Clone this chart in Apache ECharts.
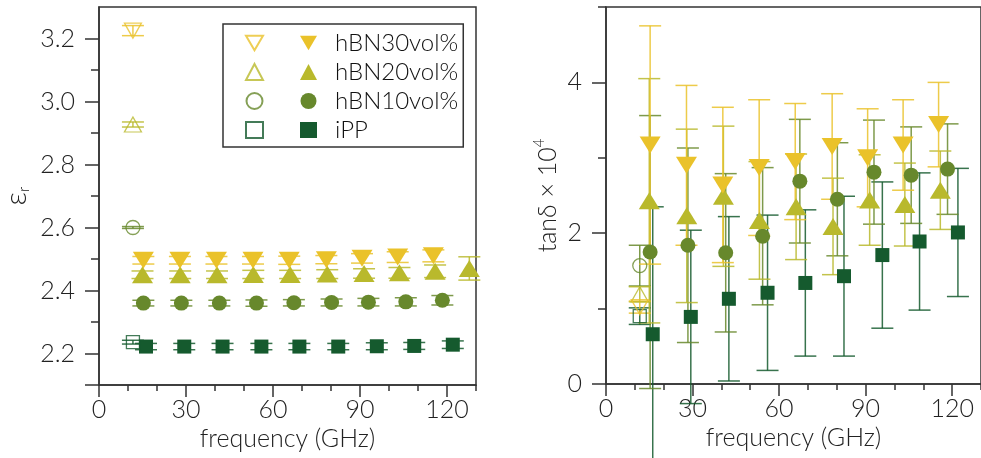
<!DOCTYPE html>
<html>
<head>
<meta charset="utf-8">
<script src="https://cdn.jsdelivr.net/npm/echarts@6/dist/echarts.min.js"></script>
<style>
  html, body { margin: 0; padding: 0; background: #fff; }
  #chart { width: 981px; height: 458px; }
</style>
</head>
<body>
<div id="chart"></div>
<script>
// measurement frequencies (GHz)
const freq30 = [15.3, 27.9, 40.5, 53.1, 65.6, 78.4, 90.7, 103.0, 115.3]
const freq20 = [15.0, 28.0, 40.7, 53.2, 65.9, 78.7, 91.4, 103.6, 115.9, 127.7]
const freq10 = [15.3, 28.4, 41.5, 54.3, 67.2, 80.2, 92.9, 105.8, 118.4]
const freqPP = [16.2, 29.4, 42.6, 56.0, 69.1, 82.5, 95.8, 108.7, 122.0]
const freqOpen = 11.7

// relative permittivity (left panel)
const eps30 = [2.496, 2.496, 2.496, 2.496, 2.496, 2.498, 2.502, 2.506, 2.510]
const epsErr30 = [0.012, 0.012, 0.012, 0.012, 0.013, 0.013, 0.015, 0.017, 0.019]
const eps20 = [2.450, 2.450, 2.450, 2.451, 2.451, 2.452, 2.454, 2.456, 2.461, 2.470]
const epsErr20 = [0.012, 0.012, 0.012, 0.013, 0.013, 0.014, 0.015, 0.017, 0.020, 0.037]
const eps10 = [2.360, 2.360, 2.360, 2.360, 2.361, 2.362, 2.363, 2.364, 2.369]
const epsErr10 = [0.009, 0.009, 0.009, 0.010, 0.010, 0.011, 0.012, 0.013, 0.015]
const epsPP = [2.222, 2.222, 2.222, 2.222, 2.222, 2.222, 2.223, 2.224, 2.228]
const epsErrPP = [0.010, 0.010, 0.010, 0.010, 0.010, 0.010, 0.011, 0.011, 0.012]
// open markers: 30, 20, 10 vol%, iPP
const epsOpen = [3.225, 2.927, 2.600, 2.236]
const epsErrOpen = [0.016, 0.008, 0.003, 0.006]

// tan delta x 1e4 (right panel)
const tan30 = [3.17, 2.90, 2.64, 2.87, 2.95, 3.15, 3.00, 3.17, 3.44]
const tanErr30 = [1.58, 1.06, 1.03, 0.90, 0.77, 0.70, 0.65, 0.60, 0.56]
const tan20 = [2.43, 2.23, 2.49, 2.17, 2.35, 2.09, 2.44, 2.38, 2.57]
const tanErr20 = [1.62, 1.15, 0.93, 0.78, 0.70, 0.64, 0.60, 0.55, 0.52]
const tan10 = [1.75, 1.84, 1.74, 1.96, 2.69, 2.45, 2.81, 2.77, 2.85]
const tanErr10 = [1.81, 1.29, 1.05, 0.91, 0.82, 0.75, 0.69, 0.64, 0.60]
const tanPP = [0.66, 0.89, 1.13, 1.21, 1.34, 1.43, 1.71, 1.89, 2.01]
const tanErrPP = [1.69, 1.15, 1.09, 1.03, 0.97, 1.06, 0.97, 0.91, 0.85]
const tanOpen = [1.02, 1.19, 1.57, 0.90]
const tanErrOpen = [0.08, 0.10, 0.27, 0.11]

// axis ticks
const xMajor = [0, 30, 60, 90, 120]
const xMinor = [10, 20, 40, 50, 70, 80, 100, 110, 130]
const epsLabels = [2.2, 2.4, 2.6, 2.8, 3.0, 3.2]
const epsMinor = [2.3, 2.5, 2.7, 2.9, 3.1]
const tanLabels = [0, 2, 4]
const tanMinor = [1, 3, 5]

const names = ['hBN30vol%', 'hBN20vol%', 'hBN10vol%', 'iPP']
const openNames = names.map(n => n + ' 10GHz')
const colors = ['#EAC22A', '#B9B92C', '#67882C', '#155A2E']
const FONT = 'Lato'
const downTriangle = 'path://M0,0L20,0L10,17Z'

const chart = echarts.init(document.getElementById('chart'))

function errorBars(params, api) {
  const x = api.value(0)
  const y = api.value(1)
  const e = api.value(2)
  const top = api.coord([x, y + e])
  const bot = api.coord([x, y - e])
  const hw = 11
  const style = { stroke: api.visual('color'), lineWidth: 1.5, opacity: 0.85 }
  return {
    type: 'group',
    children: [
      { type: 'line', shape: { x1: top[0], y1: top[1], x2: bot[0], y2: bot[1] }, style },
      { type: 'line', shape: { x1: top[0] - hw, y1: top[1], x2: top[0] + hw, y2: top[1] }, style },
      { type: 'line', shape: { x1: bot[0] - hw, y1: bot[1], x2: bot[0] + hw, y2: bot[1] }, style }
    ]
  }
}

const symbols = [
  { symbol: 'triangle', rotate: 180, size: [21, 17], openSize: [17, 15] },
  { symbol: 'triangle', rotate: 0, size: [21, 17], openSize: [17, 15] },
  { symbol: 'circle', rotate: 0, size: 15, openSize: 14 },
  { symbol: 'rect', rotate: 0, size: 14, openSize: 13 }
]

function zip(xs, ys, es) {
  return ys.map((y, i) => es ? [xs[i], y, es[i]] : [xs[i], y])
}

function panelSeries(g, vals, errs, openVals, openErrs) {
  const freqs = [freq30, freq20, freq10, freqPP]
  const out = []
  for (let k = 3; k >= 0; k--) {
    out.push({
      type: 'custom', name: 'err' + k + '_' + g, xAxisIndex: g * 2, yAxisIndex: g * 2,
      renderItem: errorBars, clip: false, silent: true,
      itemStyle: { color: colors[k] },
      encode: { x: 0, y: 1 },
      data: zip(freqs[k], vals[k], errs[k]), z: 2
    })
    out.push({
      type: 'custom', name: 'errOpen' + k + '_' + g, xAxisIndex: g * 2, yAxisIndex: g * 2,
      renderItem: errorBars, clip: false, silent: true,
      itemStyle: { color: colors[k] },
      encode: { x: 0, y: 1 },
      data: [[freqOpen, openVals[k], openErrs[k]]], z: 2
    })
  }
  for (let k = 3; k >= 0; k--) {
    const s = symbols[k]
    out.push({
      type: 'scatter', name: names[k], xAxisIndex: g * 2, yAxisIndex: g * 2,
      symbol: s.symbol, symbolRotate: s.rotate, symbolSize: s.size,
      itemStyle: { color: colors[k], opacity: 1 },
      data: zip(freqs[k], vals[k]), z: 3
    })
    out.push({
      type: 'scatter', name: openNames[k], xAxisIndex: g * 2, yAxisIndex: g * 2,
      symbol: s.symbol, symbolRotate: s.rotate, symbolSize: s.openSize,
      itemStyle: { color: 'rgba(255,255,255,0)', borderColor: colors[k], borderWidth: 1.3 },
      data: [[freqOpen, openVals[k]]], z: 3
    })
  }
  return out
}

const lineStyle = { color: '#333', width: 1.5 }
const labelStyle = { fontSize: 25, color: '#222', fontFamily: FONT, fontWeight: 300 }

function xAxes(g) {
  return [{
    gridIndex: g, type: 'value', min: 0, max: 130, position: 'bottom',
    axisLine: { show: true, onZero: false, lineStyle },
    axisTick: { show: true, length: 12, customValues: xMajor, lineStyle },
    axisLabel: Object.assign({ customValues: xMajor, margin: 12 }, labelStyle),
    splitLine: { show: false },
    name: 'frequency (GHz)', nameLocation: 'middle', nameGap: 35,
    nameTextStyle: { fontSize: 25, color: '#222', fontFamily: FONT, fontWeight: 300 }
  }, {
    gridIndex: g, type: 'value', min: 0, max: 130, position: 'bottom',
    axisLine: { show: false, onZero: false },
    axisTick: { show: true, length: 6, customValues: xMinor, lineStyle },
    axisLabel: { show: false }, splitLine: { show: false }
  }]
}

function yAxes(g, min, max, major, tickVals, minor, name, nameGap, rich) {
  return [{
    gridIndex: g, type: 'value', min, max, position: 'left',
    axisLine: { show: true, onZero: false, lineStyle },
    axisTick: { show: true, length: 14, customValues: tickVals, lineStyle },
    axisLabel: Object.assign({
      customValues: major, margin: 24,
      formatter: v => g === 0 ? v.toFixed(1) : String(v)
    }, labelStyle),
    splitLine: { show: false },
    name, nameLocation: 'middle', nameRotate: 90, nameGap,
    nameTextStyle: { color: '#222', fontFamily: FONT, fontWeight: 300, rich }
  }, {
    gridIndex: g, type: 'value', min, max, position: 'left',
    axisLine: { show: false, onZero: false },
    axisTick: { show: true, length: 8, customValues: minor, lineStyle },
    axisLabel: { show: false }, splitLine: { show: false }
  }]
}

const legendText = { fontSize: 24, color: '#111', fontFamily: FONT, fontWeight: 300 }

chart.setOption({
  animation: false,
  backgroundColor: '#fff',
  grid: [
    { left: 99, top: 7, width: 377, height: 378, show: true, borderColor: '#333', borderWidth: 1.5 },
    { left: 606, top: 7, width: 377, height: 377, show: true, borderColor: '#333', borderWidth: 1.5 }
  ],
  xAxis: [...xAxes(0), ...xAxes(1)],
  yAxis: [
    ...yAxes(0, 2.1, 3.3, epsLabels, [2.1, ...epsLabels], epsMinor, '{e|ε}{r|r}', 67, {
      e: { fontSize: 30, fontFamily: FONT, color: '#222' },
      r: { fontSize: 15, fontFamily: FONT, color: '#222', padding: [16, 0, 0, 0] }
    }),
    ...yAxes(1, 0, 5, tanLabels, tanLabels, tanMinor, '{a|tanδ × 10}{s|4}', 43, {
      a: { fontSize: 25, fontFamily: FONT, color: '#222' },
      s: { fontSize: 15, fontFamily: FONT, color: '#222', padding: [0, 0, 16, 0] }
    })
  ],
  legend: [{
    orient: 'vertical', left: 223, top: 24, padding: [7, 5, 5, 77],
    borderColor: '#333', borderWidth: 1.5, itemGap: 5, itemWidth: 17, itemHeight: 16,
    selectedMode: false,
    data: names.map((n, i) => i === 0 ? { name: n, icon: downTriangle } : n),
    textStyle: Object.assign({ padding: [0, 0, 0, 13] }, legendText)
  }, {
    orient: 'vertical', left: 245, top: 24, padding: [7, 0, 5, 0],
    itemGap: 5, itemWidth: 17, itemHeight: 16,
    selectedMode: false,
    data: openNames.map((n, i) => i === 0 ? { name: n, icon: downTriangle } : n),
    formatter: () => ' ',
    textStyle: legendText
  }],
  series: [
    ...panelSeries(0, [eps30, eps20, eps10, epsPP], [epsErr30, epsErr20, epsErr10, epsErrPP], epsOpen, epsErrOpen),
    ...panelSeries(1, [tan30, tan20.slice(0, 9), tan10, tanPP], [tanErr30, tanErr20, tanErr10, tanErrPP], tanOpen, tanErrOpen)
  ]
})
</script>
</body>
</html>
